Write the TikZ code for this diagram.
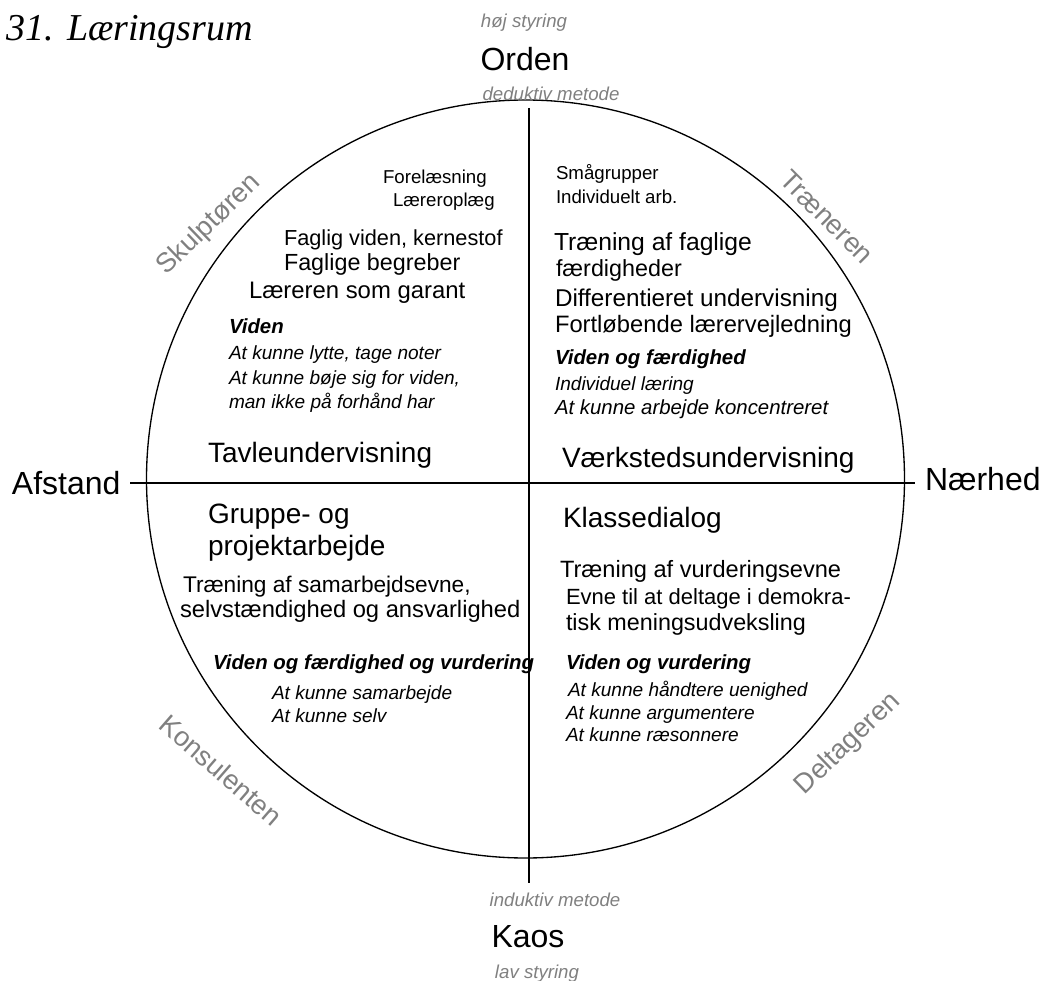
\documentclass[tikz,border=0pt]{standalone}
\usepackage{fontspec}
\setmainfont{Liberation Sans}
\newfontfamily\titlefont{Liberation Serif}
\definecolor{labgrey}{HTML}{808080}
\tikzset{
  txt/.style={inner sep=0pt, outer sep=0pt, anchor=base west},
  bigl/.style={txt, anchor=base, font=\fontsize{24}{28}\selectfont},
  quad/.style={txt, font=\fontsize{21}{25}\selectfont},
  mid/.style={txt, font=\fontsize{17.5}{21}\selectfont},
  sml/.style={txt, font=\fontsize{14}{17}\selectfont},
  smit/.style={txt, font=\fontsize{14.3}{17}\selectfont\itshape},
  smbi/.style={txt, font=\fontsize{15.3}{18}\selectfont\bfseries\itshape},
  axlab/.style={txt, anchor=base, text=labgrey, font=\fontsize{14}{17}\selectfont\itshape},
  role/.style={inner sep=0pt, text=labgrey, font=\fontsize{20.5}{24}\selectfont},
  axis/.style={line width=1.6pt},
  rim/.style={line width=1pt}
}
\begin{document}
\begin{tikzpicture}[x=0.75pt,y=-0.75pt]
\useasboundingbox (0,0) rectangle (1047,981);
% title
\node[txt, font=\fontsize{28.5}{32}\selectfont\titlefont\itshape] (title) at (7,41) {31. Læringsrum};
% circle
\node[circle, draw, rim, minimum size=758*0.75pt, inner sep=0pt] (rimc) at (525.5,479) {};
% axes
\coordinate (top) at (529,108);
\coordinate (bot) at (529,883);
\coordinate (lft) at (130,483);
\coordinate (rgt) at (915,483);
\draw[axis] (top) -- (bot);
\draw[axis] (lft) -- (rgt);
% axis labels
\node[axlab] (hoj) at (524,28) {høj styring};
\node[bigl] (orden) at (525,71) {Orden};
\node[axlab] (dedu) at (551,101) {deduktiv metode};
\node[axlab] (indu) at (555,906) {induktiv metode};
\node[bigl] (kaos) at (528,947) {Kaos};
\node[axlab] (lav) at (537,978) {lav styring};
\node[txt, font=\fontsize{24}{28}\selectfont] (afst) at (12,494) {Afstand};
\node[txt, font=\fontsize{24}{28}\selectfont] (naer) at (925,490) {Nærhed};
% role labels
\node[role, rotate=44] (skulp) at (209,225) {Skulptøren};
\node[role, rotate=-45] (traen) at (827,217) {Træneren};
\node[role, rotate=-41] (konsu) at (221,770) {Konsulenten};
\node[role, rotate=44] (delta) at (848,744) {Deltageren};
% top-left quadrant
\node[sml] (tl1) at (383,183) {Forelæsning};
\node[sml] (tl2) at (393,206) {Læreroplæg};
\node[txt, font=\fontsize{16.3}{20}\selectfont] (tl3) at (284,245) {Faglig viden, kernestof};
\node[mid] (tl4) at (284,270) {Faglige begreber};
\node[txt, font=\fontsize{17.9}{21}\selectfont] (tl5) at (249,298) {Læreren som garant};
\node[smbi] (tl6) at (229,333) {Viden};
\node[smit] (tl7) at (229,359) {At kunne lytte, tage noter};
\node[smit] (tl8) at (229,384) {At kunne bøje sig for viden,};
\node[smit] (tl9) at (229,408) {man ikke på forhånd har};
\node[quad] (tl10) at (208,462) {Tavleundervisning};
% top-right quadrant
\node[sml] (tr1) at (556,180) {Smågrupper};
\node[sml] (tr2) at (556,203) {Individuelt arb.};
\node[txt, font=\fontsize{18.5}{22}\selectfont] (tr3) at (554,250) {Træning af faglige};
\node[mid] (tr4) at (556,276) {færdigheder};
\node[txt, font=\fontsize{18.2}{22}\selectfont] (tr5) at (555,306) {Differentieret undervisning};
\node[txt, font=\fontsize{17.8}{22}\selectfont] (tr6) at (555,332) {Fortløbende lærervejledning};
\node[smbi] (tr7) at (555,364) {Viden og færdighed};
\node[smit] (tr8) at (555,390) {Individuel læring};
\node[txt, font=\fontsize{15.3}{18}\selectfont\itshape] (tr9) at (555,414) {At kunne arbejde koncentreret};
\node[quad] (tr10) at (562,467) {Værkstedsundervisning};
% bottom-left quadrant
\node[quad] (bl1) at (208,523) {Gruppe- og};
\node[quad] (bl2) at (208,555) {projektarbejde};
\node[txt, font=\fontsize{17}{21}\selectfont] (bl3) at (183,592) {Træning af samarbejdsevne,};
\node[txt, font=\fontsize{17.8}{21}\selectfont] (bl4) at (180,617) {selvstændighed og ansvarlighed};
\node[smbi] (bl5) at (213,669) {Viden og færdighed og vurdering};
\node[smit] (bl6) at (272,699) {At kunne samarbejde};
\node[smit] (bl7) at (272,722) {At kunne selv};
% bottom-right quadrant
\node[quad] (br1) at (563,527) {Klassedialog};
\node[txt, font=\fontsize{17.7}{21}\selectfont] (br2) at (560,577) {Træning af vurderingsevne};
\node[txt, font=\fontsize{16.5}{20}\selectfont] (br3) at (566,604) {Evne til at deltage i demokra-};
\node[mid] (br4) at (566,630) {tisk meningsudveksling};
\node[smbi] (br5) at (566,669) {Viden og vurdering};
\node[smit] (br6) at (568,696) {At kunne håndtere uenighed};
\node[smit] (br7) at (566,719) {At kunne argumentere};
\node[smit] (br8) at (566,741) {At kunne ræsonnere};
\end{tikzpicture}
\end{document}
